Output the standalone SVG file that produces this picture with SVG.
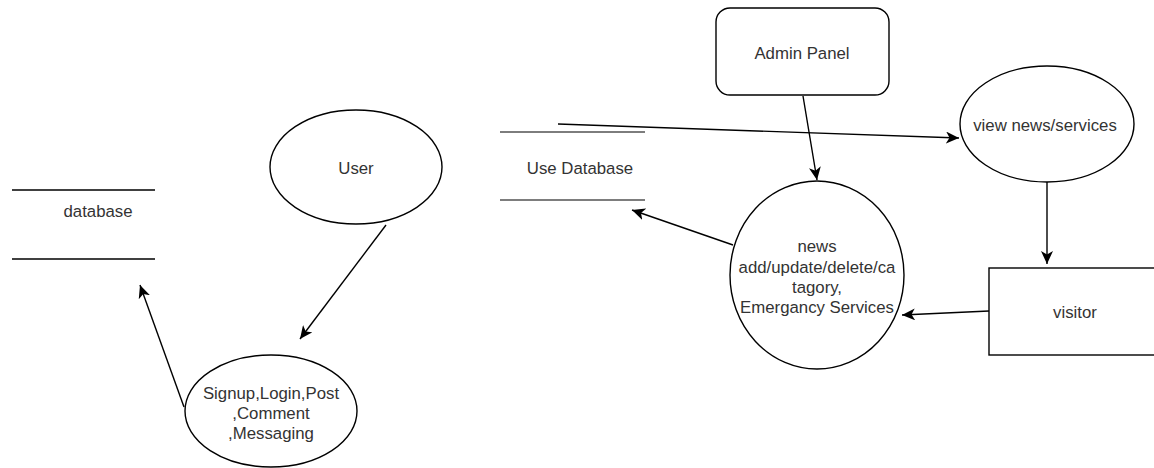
<svg xmlns="http://www.w3.org/2000/svg" width="1154" height="468" viewBox="0 0 1154 468">
<defs>
<marker id="arr" markerUnits="userSpaceOnUse" markerWidth="14" markerHeight="12" viewBox="0 0 14 12" refX="13" refY="6" orient="auto">
<path d="M0,0 L13,6 L0,12 L3.5,6 Z" fill="#000"/>
</marker>
<style>
.t{font-family:"Liberation Sans",Arial,sans-serif;font-size:16.8px;fill:#333;text-anchor:middle;dominant-baseline:central}
.s{fill:#fff;stroke:#000;stroke-width:1.4}
.e{fill:none;stroke:#000;stroke-width:1.4}
.db{stroke:#000;stroke-width:1.4}
.db2{stroke:#7d7d7d;stroke-width:2}
</style>
</defs>
<rect width="1154" height="468" fill="#fff"/>
<g id="database">
<line class="db" x1="12" y1="190" x2="155" y2="190"/>
<line class="db" x1="12" y1="259" x2="155" y2="259"/>
<text class="t" x="98" y="211">database</text>
</g>
<g id="user">
<ellipse class="s" cx="356" cy="167" rx="86" ry="57"/>
<text class="t" x="356" y="168">User</text>
</g>
<g id="signup">
<ellipse class="s" cx="271" cy="411" rx="86" ry="56"/>
<text class="t" x="271" y="393">Signup,Login,Post</text>
<text class="t" x="271" y="413">,Comment</text>
<text class="t" x="271" y="433">,Messaging</text>
</g>
<g id="usedb">
<line class="db2" x1="500" y1="132" x2="645" y2="132"/>
<line class="db2" x1="500" y1="200" x2="645" y2="200"/>
<text class="t" x="580" y="168">Use Database</text>
</g>
<g id="admin">
<rect class="s" x="716" y="8" width="173" height="87" rx="14" ry="14"/>
<text class="t" x="802" y="53">Admin Panel</text>
</g>
<g id="news">
<ellipse class="s" cx="817" cy="275" rx="87" ry="94"/>
<text class="t" x="817" y="246">news</text>
<text class="t" x="817" y="267">add/update/delete/ca</text>
<text class="t" x="817" y="287">tagory,</text>
<text class="t" x="817" y="307">Emergancy Services</text>
</g>
<g id="viewnews">
<ellipse class="s" cx="1047" cy="124" rx="87" ry="58"/>
<text class="t" x="1045" y="125">view news/services</text>
</g>
<g id="visitor">
<rect class="s" x="989" y="268" width="180" height="87"/>
<text class="t" x="1075" y="312">visitor</text>
</g>
<g id="connectors">
<path class="e" d="M386,225 L300,339" marker-end="url(#arr)"/>
<path class="e" d="M184,407 L140,285" marker-end="url(#arr)"/>
<path class="e" d="M558,124 L959,138" marker-end="url(#arr)"/>
<path class="e" d="M803,96 L817,180" marker-end="url(#arr)"/>
<path class="e" d="M733,245 L632,210" marker-end="url(#arr)"/>
<path class="e" d="M1047,182 L1047,264" marker-end="url(#arr)"/>
<path class="e" d="M989,311 L902,315" marker-end="url(#arr)"/>
</g>
</svg>
